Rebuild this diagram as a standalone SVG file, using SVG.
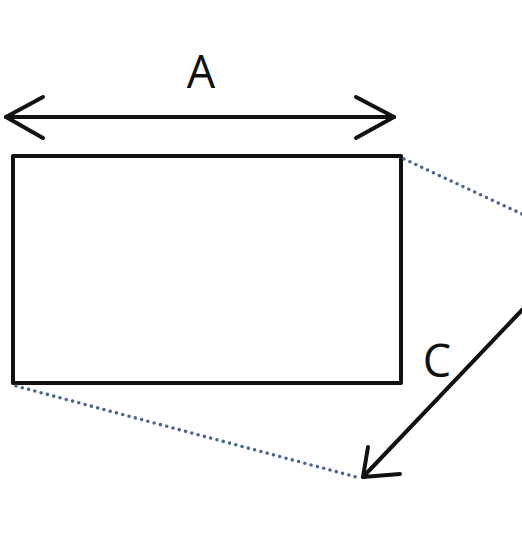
<svg xmlns="http://www.w3.org/2000/svg" width="522" height="549" viewBox="0 0 522 549">
<style>
.solid{fill:none;stroke:#111;stroke-width:4;stroke-linecap:round;stroke-linejoin:round}
.dot{fill:none;stroke:#4a6590;stroke-width:3.6;stroke-dasharray:0 6.5;stroke-linecap:round}
.lbl{font-family:"Open Sans","Liberation Sans",sans-serif;font-size:45px;fill:#111}
</style>
<rect width="522" height="549" fill="#fff"/>
<g id="rectangle">
<rect class="solid" x="13" y="156" width="388" height="227"/>
</g>
<g id="connectors">
<path class="dot" d="M404 159 L522 214"/>
<path class="dot" d="M16 386 L360 478"/>
<g id="arrow-a">
<path class="solid" d="M6 117 L394 117"/>
<path class="solid" d="M43 97 L6 117 L43 138"/>
<path class="solid" d="M356 97 L394 117 L356 138"/>
</g>
<g id="arrow-c">
<path class="solid" d="M523 309 L363 477"/>
<path class="solid" d="M368 447 L363 477 L400 474"/>
</g>
</g>
<g id="label-a"><text class="lbl" x="201" y="88" text-anchor="middle">A</text></g>
<g id="label-c"><text class="lbl" x="437" y="377" text-anchor="middle">C</text></g>
</svg>
